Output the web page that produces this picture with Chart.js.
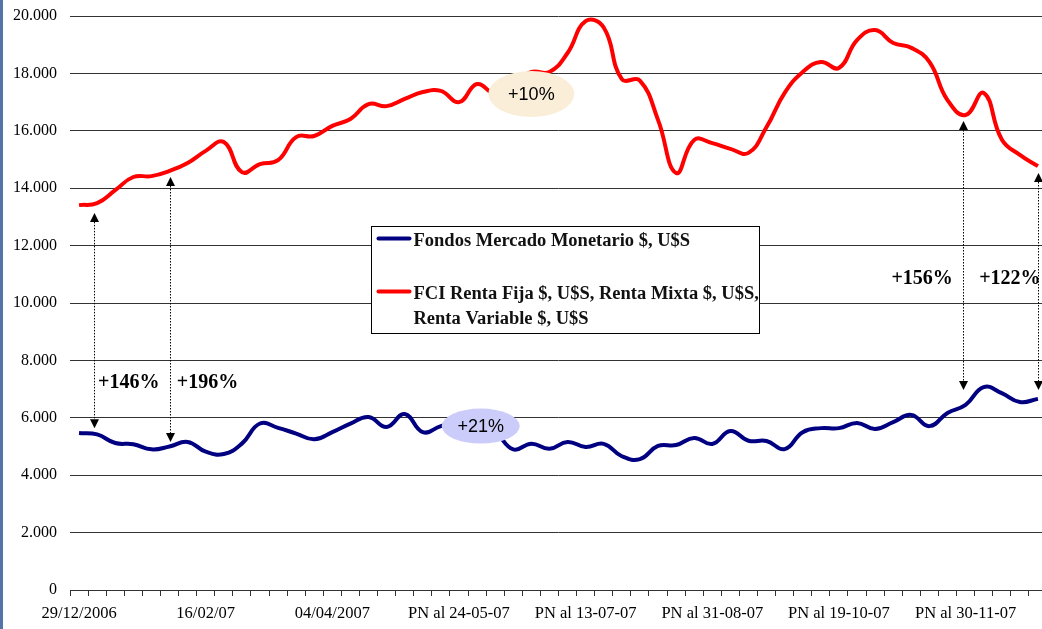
<!DOCTYPE html>
<html>
<head>
<meta charset="utf-8">
<script src="https://cdn.jsdelivr.net/npm/chart.js@4.4.1/dist/chart.umd.min.js"></script>
<style>
html, body { margin: 0; padding: 0; background: #fff; overflow: hidden; }
#wrap { position: relative; width: 1042px; height: 629px; overflow: hidden; }
#edge { position: absolute; left: 0; top: 0; width: 3px; height: 629px; background: #5473a8; }
canvas { position: absolute; left: 0; top: 0; }
</style>
</head>
<body>
<div id="wrap"><canvas id="chart" width="1050" height="629"></canvas><div id="edge"></div></div>
<script>
// tick labels shown every 7 weeks
const tickLabels = ["29/12/2006", "16/02/07", "04/04/2007", "PN al 24-05-07", "PN al 13-07-07", "PN al 31-08-07", "PN al 19-10-07", "PN al 30-11-07"]
const labelEvery = 7

const monetario = [5470, 5420, 5120, 5080, 4900, 5000, 5160, 4820, 4740, 5100,
    5800, 5650, 5450, 5250, 5500, 5800, 6030, 5680, 6130, 5500,
    5710, 5850, 5800, 5500, 4900, 5100, 4920, 5160, 4980, 5090,
    4660, 4560, 5020, 5050, 5300, 5090, 5540, 5200, 5190, 4910,
    5500, 5640, 5640, 5820, 5610, 5850, 6100, 5710, 6170, 6450,
    7070, 6860, 6550, 6660]

const rentas = [13410, 13480, 13930, 14390, 14420, 14600, 14880, 15300, 15610, 14560,
    14840, 14980, 15780, 15820, 16170, 16410, 16930, 16860, 17110, 17350,
    17390, 17000, 17630, 17300, 17650, 18050, 18050, 18710, 19820, 19600,
    17800, 17750, 16380, 14530, 15680, 15570, 15370, 15230, 16130, 17320,
    18050, 18400, 18190, 19160, 19510, 19060, 18890, 18400, 17070, 16550,
    17320, 15700, 15160, 14770]

const seriesNames = ["Fondos Mercado Monetario $, U$S", "FCI Renta Fija $, U$S, Renta Mixta $, U$S, Renta Variable $, U$S"]
const legendLines = [["Fondos Mercado Monetario $, U$S"], ["FCI Renta Fija $, U$S, Renta Mixta $, U$S,", "Renta Variable $, U$S"]]
const seriesColors = ["#000080", "#ff0000"]

// dotted arrows between the two series: week index, top tip, bottom tip
const arrows = [
    { index: 0.85, top: 13140, bottom: 5640 },
    { index: 5, top: 14390, bottom: 5160 },
    { index: 48.85, top: 16340, bottom: 6970 },
    { index: 53, top: 14530, bottom: 6970 }
]
const pctLabels = [
    { text: "+146%", index: 2.75, value: 7210 },
    { text: "+196%", index: 7.1, value: 7210 },
    { text: "+156%", index: 46.6, value: 10840 },
    { text: "+122%", index: 51.45, value: 10840 }
]
const bubbles = [
    { text: "+10%", index: 25, value: 17280, rx: 43, ry: 23, color: "#faeed8" },
    { text: "+21%", index: 22.2, value: 5710, rx: 39, ry: 17.5, color: "#ccccfa" }
]

const categories = monetario.map((v, i) => i % labelEvery === 0 ? (tickLabels[i / labelEvery] || "") : "")

const formatThousands = (v) => String(v).replace(/\B(?=(\d{3})+(?!\d))/g, ".")

const serif = "'Liberation Serif', 'Times New Roman', serif"

const overlayPlugin = {
    id: "overlay",
    afterDatasetsDraw(chart) {
        const ctx = chart.ctx
        const xs = chart.scales.x
        const ys = chart.scales.y
        ctx.save()

        // arrows
        arrows.forEach(a => {
            const px = Math.round(xs.getPixelForValue(a.index)) + 0.5
            const top = ys.getPixelForValue(a.top)
            const bottom = ys.getPixelForValue(a.bottom)
            ctx.strokeStyle = "#000"
            ctx.lineWidth = 1
            ctx.setLineDash([1.5, 1.5])
            ctx.beginPath()
            ctx.moveTo(px, top + 9)
            ctx.lineTo(px, bottom - 9)
            ctx.stroke()
            ctx.setLineDash([])
            ctx.fillStyle = "#000"
            ctx.beginPath()
            ctx.moveTo(px, top)
            ctx.lineTo(px - 4.5, top + 9)
            ctx.lineTo(px + 4.5, top + 9)
            ctx.closePath()
            ctx.fill()
            ctx.beginPath()
            ctx.moveTo(px, bottom)
            ctx.lineTo(px - 4.5, bottom - 9)
            ctx.lineTo(px + 4.5, bottom - 9)
            ctx.closePath()
            ctx.fill()
        })

        ctx.fillStyle = "#000"
        ctx.font = "bold 20px " + serif
        ctx.textAlign = "center"
        ctx.textBaseline = "middle"
        pctLabels.forEach(l => {
            ctx.fillText(l.text, xs.getPixelForValue(l.index), ys.getPixelForValue(l.value))
        })

        // bubbles
        bubbles.forEach(b => {
            const cx = xs.getPixelForValue(b.index)
            const cy = ys.getPixelForValue(b.value)
            ctx.fillStyle = b.color
            ctx.beginPath()
            ctx.ellipse(cx, cy, b.rx, b.ry, 0, 0, Math.PI * 2)
            ctx.fill()
            ctx.fillStyle = "#000"
            ctx.font = "18px 'Liberation Sans', Arial, sans-serif"
            ctx.fillText(b.text, cx, cy + 1)
        })
        ctx.restore()
    },
    afterDraw(chart) {
        // legend box
        const ctx = chart.ctx
        const area = chart.chartArea
        const left = Math.round(area.left + 301) + 0.5
        const top = Math.round(area.top + 210) + 0.5
        const w = 388
        const h = 107
        ctx.save()
        ctx.fillStyle = "#fff"
        ctx.fillRect(left, top, w, h)
        ctx.strokeStyle = "#000"
        ctx.lineWidth = 1
        ctx.strokeRect(left, top, w, h)

        const rows = [12, 65]
        ctx.font = "bold 18.5px " + serif
        ctx.textAlign = "left"
        ctx.textBaseline = "middle"
        legendLines.forEach((lines, i) => {
            const y = top + rows[i]
            ctx.strokeStyle = seriesColors[i]
            ctx.lineWidth = 4
            ctx.lineCap = "round"
            ctx.beginPath()
            ctx.moveTo(left + 7, y)
            ctx.lineTo(left + 38, y)
            ctx.stroke()
            ctx.fillStyle = "#111"
            lines.forEach((t, j) => {
                ctx.fillText(t, left + 42, y + 3 + j * 25)
            })
        })
        ctx.restore()
    }
}

new Chart(document.getElementById("chart"), {
    type: "line",
    data: {
        labels: categories,
        datasets: [
            {
                label: seriesNames[0],
                data: monetario,
                borderColor: seriesColors[0],
                borderWidth: 4,
                pointRadius: 0,
                tension: 0.45,
                fill: false
            },
            {
                label: seriesNames[1],
                data: rentas,
                borderColor: seriesColors[1],
                borderWidth: 4,
                pointRadius: 0,
                tension: 0.45,
                fill: false
            }
        ]
    },
    options: {
        responsive: false,
        animation: false,
        devicePixelRatio: 1,
        layout: { padding: { top: 16, right: 3, bottom: 0, left: 0 } },
        plugins: {
            legend: { display: false },
            tooltip: { enabled: false }
        },
        scales: {
            x: {
                offset: true,
                grid: { offset: true, drawOnChartArea: false, drawTicks: true, tickLength: 6, color: "#333" },
                border: { display: true, color: "#333" },
                ticks: {
                    autoSkip: false,
                    maxRotation: 0,
                    minRotation: 0,
                    padding: 8,
                    color: "#000",
                    font: { family: serif, size: 16.5 }
                },
                afterFit: (s) => { s.height = 39; s.paddingLeft = 0; s.paddingRight = 0 }
            },
            y: {
                min: 0,
                max: 20000,
                ticks: {
                    stepSize: 2000,
                    padding: 13,
                    color: "#000",
                    font: { family: serif, size: 16 },
                    callback: (v) => formatThousands(v)
                },
                grid: { color: "#333", drawTicks: false },
                border: { display: false },
                afterFit: (s) => { s.width = 70; s.paddingTop = 0; s.paddingBottom = 0 }
            }
        }
    },
    plugins: [overlayPlugin]
})
</script>
</body>
</html>
